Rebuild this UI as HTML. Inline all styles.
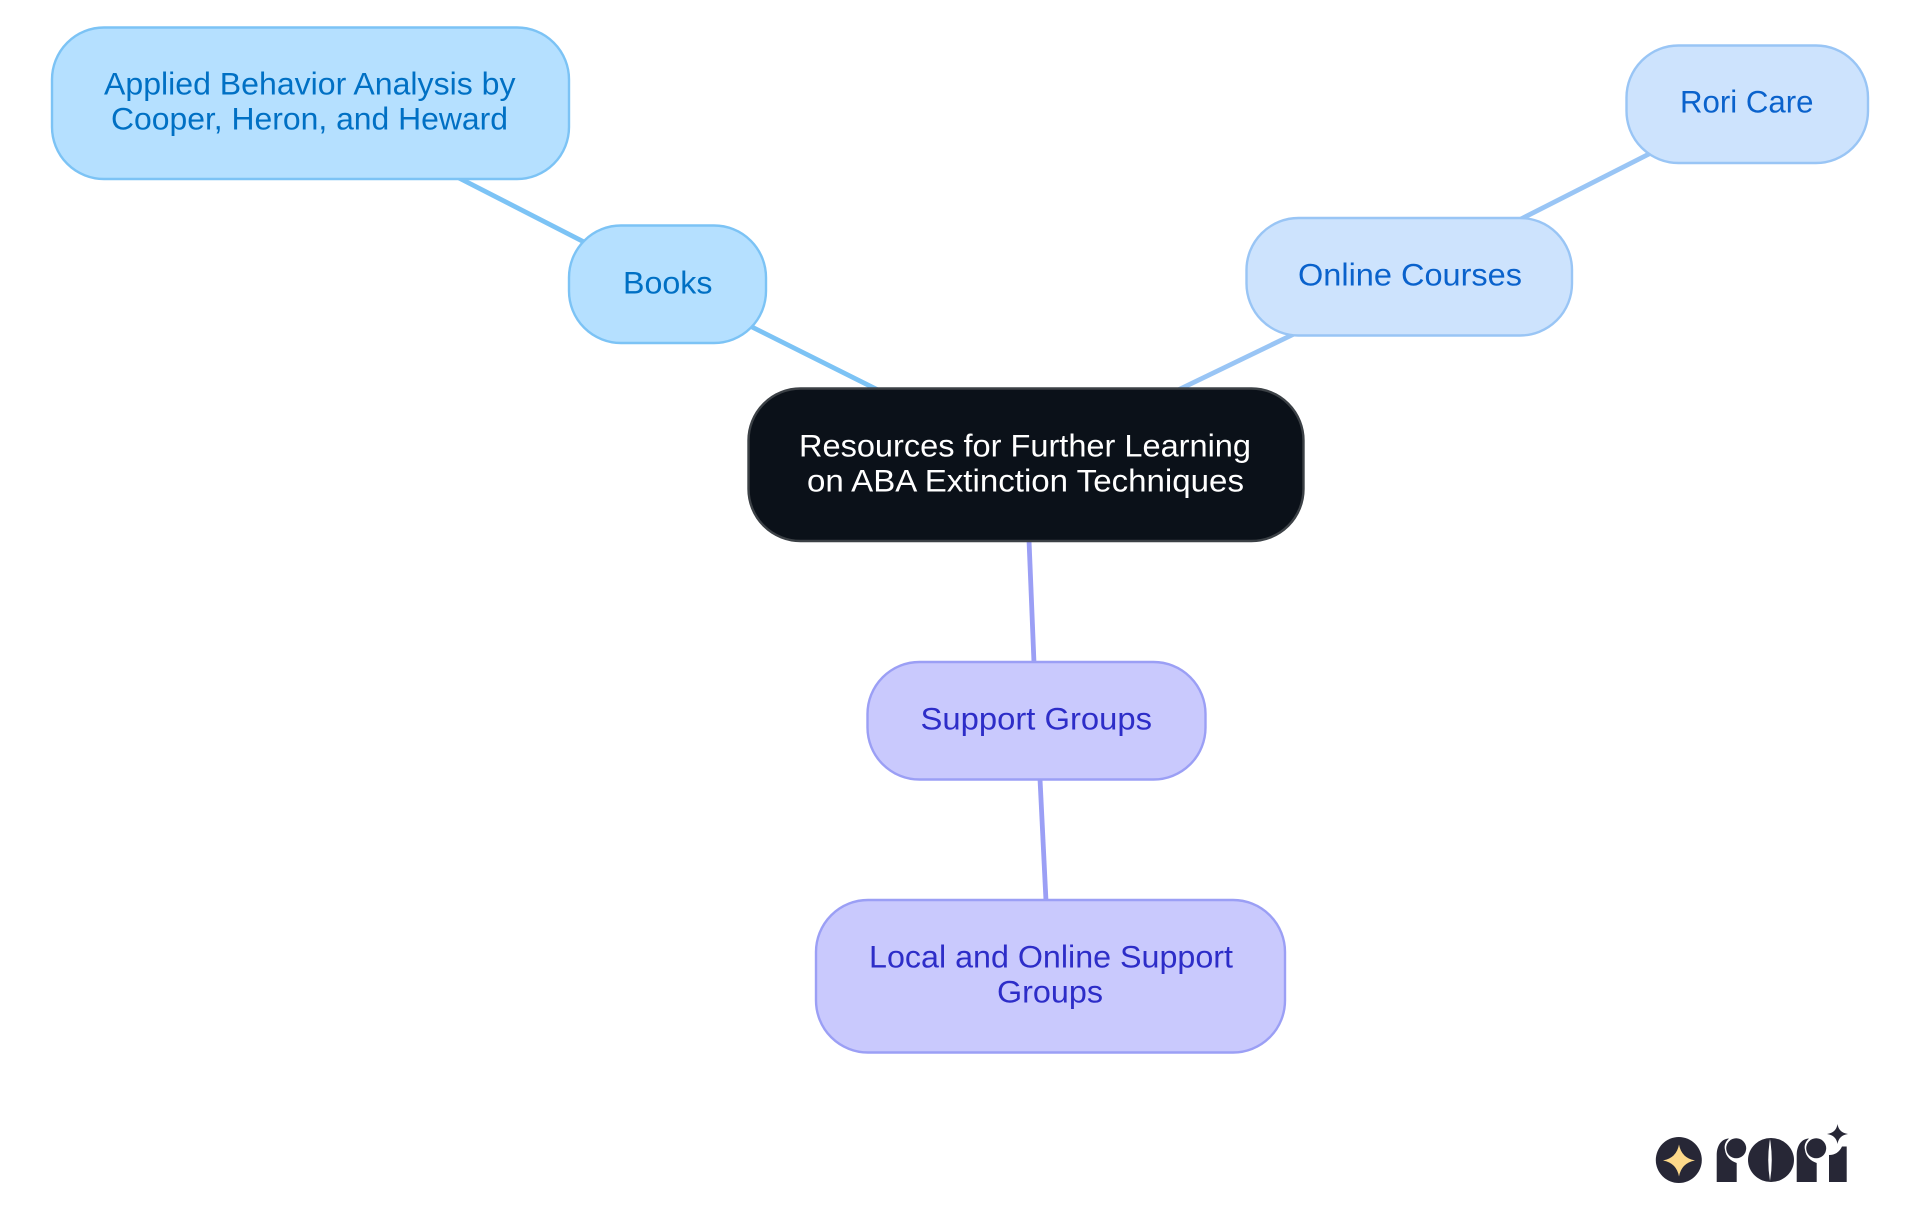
<!DOCTYPE html>
<html lang="en">
<head>
<meta charset="utf-8">
<title>Resources for Further Learning on ABA Extinction Techniques</title>
<style>
html,body{margin:0;padding:0;background:#fff;width:1920px;height:1215px;overflow:hidden}
svg{display:block}
text{font-family:"Liberation Sans",sans-serif;font-size:31.5px}
</style>
</head>
<body>
<svg xmlns="http://www.w3.org/2000/svg" width="1920" height="1215" viewBox="0 0 1920 1215">
<rect width="1920" height="1215" fill="#fff"/>
<g fill="none" stroke-width="4.800">
<line x1="459" y1="178" x2="586" y2="243" stroke="#7cc3f5"/>
<line x1="750" y1="326" x2="878" y2="390" stroke="#7cc3f5"/>
<line x1="1294" y1="334" x2="1178" y2="390" stroke="#99c5f5"/>
<line x1="1651" y1="153" x2="1521" y2="219" stroke="#99c5f5"/>
<line x1="1029" y1="540" x2="1034" y2="663" stroke="#9b9ff5"/>
<line x1="1040" y1="779" x2="1046" y2="901" stroke="#9b9ff5"/>
</g>
<g stroke-width="2.400">
<rect x="52" y="27.500" width="517" height="151.500" rx="52" fill="#b5e0ff" stroke="#7cc3f5"/>
<rect x="569" y="225.500" width="197" height="117.500" rx="52" fill="#b5e0ff" stroke="#7cc3f5"/>
<rect x="1246.500" y="218" width="325.500" height="117.500" rx="52" fill="#cde3fd" stroke="#99c5f5"/>
<rect x="1626.500" y="45.500" width="241.500" height="117.500" rx="52" fill="#cde3fd" stroke="#99c5f5"/>
<rect x="748.500" y="388.500" width="555" height="152.500" rx="52" fill="#0b1119" stroke="#3c4146"/>
<rect x="867.500" y="662" width="338" height="117.500" rx="52" fill="#c9c9fd" stroke="#9b9ff5"/>
<rect x="816" y="900" width="469" height="152.500" rx="52" fill="#c9c9fd" stroke="#9b9ff5"/>
</g>
<g>
<text x="104" y="94.500" textLength="411.500" lengthAdjust="spacingAndGlyphs" fill="#0070c4">Applied Behavior Analysis by</text>
<text x="111" y="129.500" textLength="397" lengthAdjust="spacingAndGlyphs" fill="#0070c4">Cooper, Heron, and Heward</text>
<text x="623" y="293.500" textLength="89.500" lengthAdjust="spacingAndGlyphs" fill="#0070c4">Books</text>
<text x="1298" y="285.500" textLength="224" lengthAdjust="spacingAndGlyphs" fill="#0a62cc">Online Courses</text>
<text x="1680" y="112.500" textLength="133.500" lengthAdjust="spacingAndGlyphs" fill="#0a62cc">Rori Care</text>
<text x="799" y="456.500" textLength="452" lengthAdjust="spacingAndGlyphs" fill="#ffffff">Resources for Further Learning</text>
<text x="807" y="491.500" textLength="437" lengthAdjust="spacingAndGlyphs" fill="#ffffff">on ABA Extinction Techniques</text>
<text x="920.500" y="729.500" textLength="231.500" lengthAdjust="spacingAndGlyphs" fill="#2d2dc8">Support Groups</text>
<text x="869" y="967.500" textLength="364" lengthAdjust="spacingAndGlyphs" fill="#2d2dc8">Local and Online Support</text>
<text x="997" y="1002.500" textLength="106" lengthAdjust="spacingAndGlyphs" fill="#2d2dc8">Groups</text>
</g>
<g aria-label="rori" fill="#272736">
<circle cx="1678.800" cy="1160" r="23"/>
<path d="M1679 1144.500 Q1681.500 1158 1695 1160.500 Q1681.500 1163 1679 1176.500 Q1676.500 1163 1663 1160.500 Q1676.500 1158 1679 1144.500Z" fill="#fdd98a"/>
<path d="M1716.700 1182V1155C1716.700 1146 1721 1139 1729 1138.500C1725 1142 1724 1146 1725 1150C1726 1157 1731 1161 1736.700 1163V1182Z"/>
<circle cx="1736.200" cy="1148.300" r="10"/>
<ellipse cx="1771" cy="1160" rx="23" ry="22"/>
<path d="M1770 1139Q1766.500 1160 1770 1181Q1773.500 1160 1770 1139Z" fill="#fff"/>
<path d="M1796.700 1182V1155C1796.700 1146 1801 1139 1809 1138.500C1805 1142 1804 1146 1805 1150C1806 1157 1811 1161 1816.700 1163V1182Z"/>
<circle cx="1816.200" cy="1148.300" r="10"/>
<path d="M1829 1182V1155Q1838 1155 1842 1146.500H1846.700V1182Z"/>
<path d="M1837.500 1124Q1838.800 1132.700 1848 1134Q1838.800 1135.300 1837.500 1144Q1836.200 1135.300 1827 1134Q1836.200 1132.700 1837.500 1124Z"/>
</g>
</svg>
</body>
</html>
